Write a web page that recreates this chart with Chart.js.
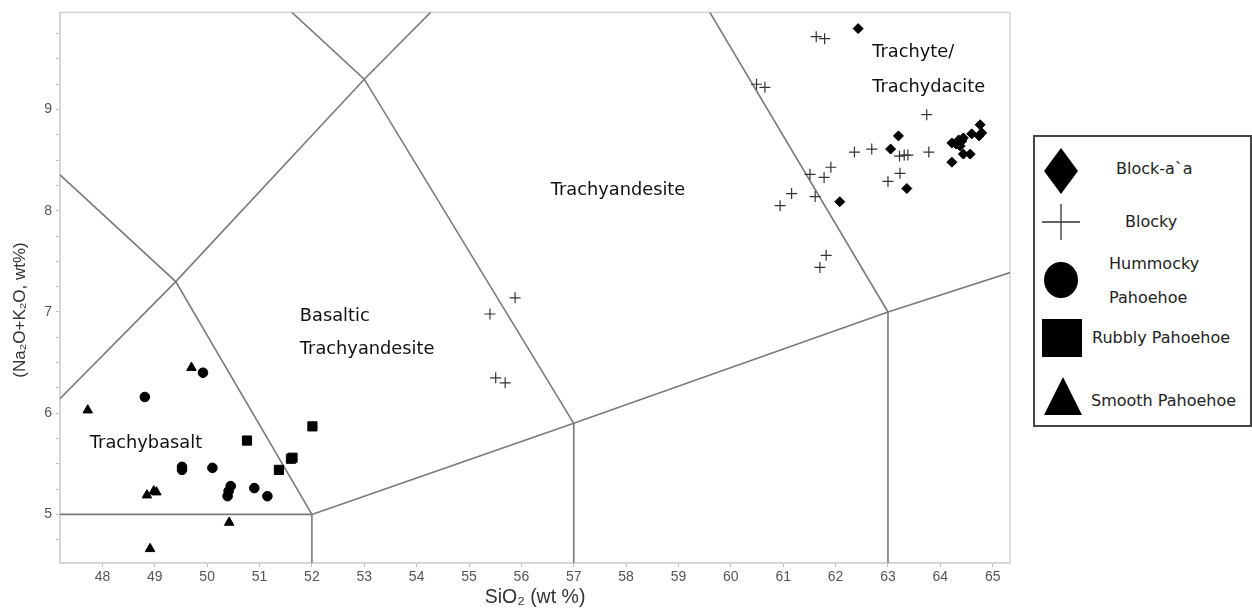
<!DOCTYPE html>
<html>
<head>
<meta charset="utf-8">
<title>TAS diagram</title>
<script src="https://cdn.jsdelivr.net/npm/chart.js@4/dist/chart.umd.min.js"></script>
<style>
    body { margin: 0; background: #fff; }
    #wrap { position: relative; width: 1252px; height: 611px; }
    #legend {
        position: absolute; left: 1033px; top: 135px; width: 215px; height: 288px;
        border: 2px solid #444; background: #fff;
        font-family: 'DejaVu Sans', Verdana, sans-serif; font-size: 16px; color: #222;
    }
    #legend svg { position: absolute; }
    #legend span { position: absolute; white-space: nowrap; line-height: 18px; }
</style>
</head>
<body>
<div id="wrap">
    <canvas id="tasChart"></canvas>
    <div id="legend">
        <svg style="left:8px;top:10px" width="36" height="48"><polygon points="18,1 35,24 18,47 1,24" fill="#000"/></svg>
        <span style="left:81px;top:23px">Block-a`a</span>
        <svg style="left:6px;top:66px" width="40" height="38"><path d="M1,19 H39 M20,1 V37" stroke="#333" stroke-width="1.3"/></svg>
        <span style="left:90px;top:76px">Blocky</span>
        <svg style="left:8px;top:124px" width="36" height="38"><ellipse cx="18" cy="19" rx="17" ry="18" fill="#000"/></svg>
        <span style="left:74px;top:118px">Hummocky</span>
        <span style="left:74px;top:152px">Pahoehoe</span>
        <svg style="left:6px;top:181px" width="42" height="40"><rect x="1" y="1" width="40" height="38" fill="#000"/></svg>
        <span style="left:57px;top:192px">Rubbly Pahoehoe</span>
        <svg style="left:8px;top:239px" width="40" height="40"><polygon points="20,1 39,39 1,39" fill="#000"/></svg>
        <span style="left:56px;top:255px">Smooth Pahoehoe</span>
    </div>
</div>
<script>
// SiO2 vs total alkali data

const blockAa = [
    [62.43, 9.80], [63.20, 8.74], [63.05, 8.61], [63.36, 8.22], [62.08, 8.09],
    [64.22, 8.67], [64.30, 8.66], [64.35, 8.70], [64.41, 8.69], [64.44, 8.72],
    [64.38, 8.64], [64.60, 8.76], [64.76, 8.85], [64.79, 8.77], [64.74, 8.74],
    [64.44, 8.56], [64.57, 8.56], [64.22, 8.48]
];

const blocky = [
    [55.88, 7.14], [55.40, 6.98], [55.51, 6.35], [55.69, 6.30],
    [61.63, 9.72], [61.79, 9.70], [60.49, 9.25], [60.65, 9.22],
    [62.36, 8.58], [62.69, 8.61], [63.74, 8.95], [63.78, 8.58],
    [63.22, 8.54], [63.31, 8.55], [63.38, 8.55], [61.91, 8.43],
    [61.51, 8.36], [61.78, 8.33], [63.23, 8.37], [63.00, 8.29],
    [61.16, 8.17], [60.94, 8.05], [61.61, 8.14], [61.82, 7.56], [61.70, 7.44]
];

const hummocky = [
    [48.81, 6.16], [49.92, 6.40], [49.52, 5.47], [49.52, 5.44], [50.10, 5.46],
    [50.45, 5.28], [50.41, 5.23], [50.39, 5.18], [50.90, 5.26], [51.15, 5.18]
];

const rubbly = [
    [50.76, 5.73], [51.63, 5.56], [51.60, 5.55], [51.37, 5.44], [52.01, 5.87]
];

const smooth = [
    [47.72, 6.03], [49.70, 6.45], [48.85, 5.19], [48.98, 5.23], [49.03, 5.22],
    [50.42, 4.92], [48.91, 4.66]
];

// TAS field boundaries (Le Bas et al.)
const fieldBoundaries = [
    [[41, 5], [52, 5]],
    [[52, 4], [52, 5]],
    [[57, 4], [57, 5.9]],
    [[63, 4], [63, 7]],
    [[52, 5], [57, 5.9], [63, 7], [69, 8]],
    [[52, 5], [49.4, 7.3], [45, 9.4]],
    [[45, 5], [49.4, 7.3], [53, 9.3], [57.6, 11.7]],
    [[57, 5.9], [53, 9.3], [48.4, 11.5]],
    [[63, 7], [57.6, 11.7]]
];

// Field names, anchored at data coordinates (left edge, middle)
const fieldLabels = [
    ['Trachybasalt', 47.76, 5.70],
    ['Basaltic', 51.77, 6.96],
    ['Trachyandesite', 51.77, 6.63],
    ['Trachyandesite', 56.56, 8.20],
    ['Trachyte/', 62.70, 9.565],
    ['Trachydacite', 62.70, 9.22]
];

const xRange = [47.19, 65.33];
const yRange = [4.52, 9.96];
const xTicks = [48, 49, 50, 51, 52, 53, 54, 55, 56, 57, 58, 59, 60, 61, 62, 63, 64, 65];
const yTicks = [4.75, 5, 5.25, 5.5, 5.75, 6, 6.25, 6.5, 6.75, 7, 7.25, 7.5, 7.75,
                8, 8.25, 8.5, 8.75, 9, 9.25, 9.5, 9.75];

function toPoints(arr) {
    return arr.map(p => ({ x: p[0], y: p[1] }));
}

// Boundary lines as line datasets
const boundaryDatasets = fieldBoundaries.map(seg => ({
    type: 'line',
    data: toPoints(seg),
    borderColor: '#7a7a7a',
    borderWidth: 1.6,
    pointRadius: 0,
    fill: false,
    tension: 0,
    order: 10
}));

// Marker datasets
const markerDatasets = [
    { label: 'Block-a`a', data: toPoints(blockAa), pointStyle: 'rectRot', pointRadius: 5, backgroundColor: '#000', borderColor: '#000', borderWidth: 1 },
    { label: 'Blocky', data: toPoints(blocky), pointStyle: 'cross', pointRadius: 5.5, backgroundColor: '#333', borderColor: '#333', borderWidth: 1.2 },
    { label: 'Hummocky Pahoehoe', data: toPoints(hummocky), pointStyle: 'circle', pointRadius: 4.8, backgroundColor: '#000', borderColor: '#000', borderWidth: 1 },
    { label: 'Rubbly Pahoehoe', data: toPoints(rubbly), pointStyle: 'rect', pointRadius: 6.5, backgroundColor: '#000', borderColor: '#000', borderWidth: 1 },
    { label: 'Smooth Pahoehoe', data: toPoints(smooth), pointStyle: 'triangle', pointRadius: 5.5, backgroundColor: '#000', borderColor: '#000', borderWidth: 1 }
].map(ds => Object.assign({ type: 'scatter', pointHoverRadius: ds.pointRadius, order: 1 }, ds));

// Light frame around the plot, field names and the y axis title
const framePlugin = {
    id: 'frame',
    beforeDatasetsDraw(chart) {
        const { ctx, chartArea } = chart;
        ctx.save();
        ctx.strokeStyle = '#d4d4d4';
        ctx.lineWidth = 1.5;
        ctx.strokeRect(chartArea.left, chartArea.top, chartArea.right - chartArea.left, chartArea.bottom - chartArea.top);
        ctx.restore();
    },
    afterDatasetsDraw(chart) {
        const { ctx, scales } = chart;
        ctx.save();
        ctx.fillStyle = '#111';
        ctx.font = '17.8px "DejaVu Sans", Verdana, sans-serif';
        ctx.textBaseline = 'middle';
        ctx.textAlign = 'left';
        fieldLabels.forEach(l => {
            ctx.fillText(l[0], scales.x.getPixelForValue(l[1]), scales.y.getPixelForValue(l[2]));
        });
        ctx.restore();

        // y axis title, sits a little below the middle of the axis
        ctx.save();
        ctx.translate(20, 310);
        ctx.rotate(-Math.PI / 2);
        ctx.fillStyle = '#333';
        ctx.font = '17px "Liberation Sans", Arial, sans-serif';
        ctx.textAlign = 'center';
        ctx.textBaseline = 'middle';
        ctx.fillText('(Na₂O+K₂O, wt%)', 0, 0);
        ctx.restore();
    }
};

const tickFont = { family: '"Liberation Sans", Arial, sans-serif', size: 14 };

new Chart(document.getElementById('tasChart'), {
    data: { datasets: boundaryDatasets.concat(markerDatasets) },
    options: {
        responsive: true,
        maintainAspectRatio: false,
        animation: false,
        layout: { padding: { left: 0, right: 242, top: 7, bottom: 0 } },
        plugins: {
            legend: { display: false },
            tooltip: { enabled: false }
        },
        scales: {
            x: {
                type: 'linear',
                min: xRange[0],
                max: xRange[1],
                afterBuildTicks: scale => { scale.ticks = xTicks.map(v => ({ value: v })); },
                afterFit: scale => { scale.height = 48; },
                border: { color: '#d4d4d4', width: 1.5 },
                grid: { drawOnChartArea: false, drawTicks: true, tickLength: 4, color: '#bbb' },
                ticks: {
                    padding: 2,
                    color: '#555',
                    font: tickFont,
                    maxRotation: 0,
                    autoSkip: false,
                    callback: v => String(v)
                },
                title: {
                    display: true,
                    text: 'SiO₂ (wt %)',
                    color: '#333',
                    font: { family: '"Liberation Sans", Arial, sans-serif', size: 19.5 },
                    padding: { top: 0, bottom: 2 }
                }
            },
            y: {
                type: 'linear',
                min: yRange[0],
                max: yRange[1],
                afterBuildTicks: scale => { scale.ticks = yTicks.map(v => ({ value: v })); },
                afterFit: scale => { scale.width = 60; },
                border: { color: '#d4d4d4', width: 1.5 },
                grid: { drawOnChartArea: false, drawTicks: true, tickLength: 4, color: '#bbb' },
                ticks: {
                    padding: 4,
                    color: '#555',
                    font: tickFont,
                    autoSkip: false,
                    callback: v => Number.isInteger(v) ? String(v) : ''
                }
            }
        }
    },
    plugins: [framePlugin]
});
</script>
</body>
</html>
